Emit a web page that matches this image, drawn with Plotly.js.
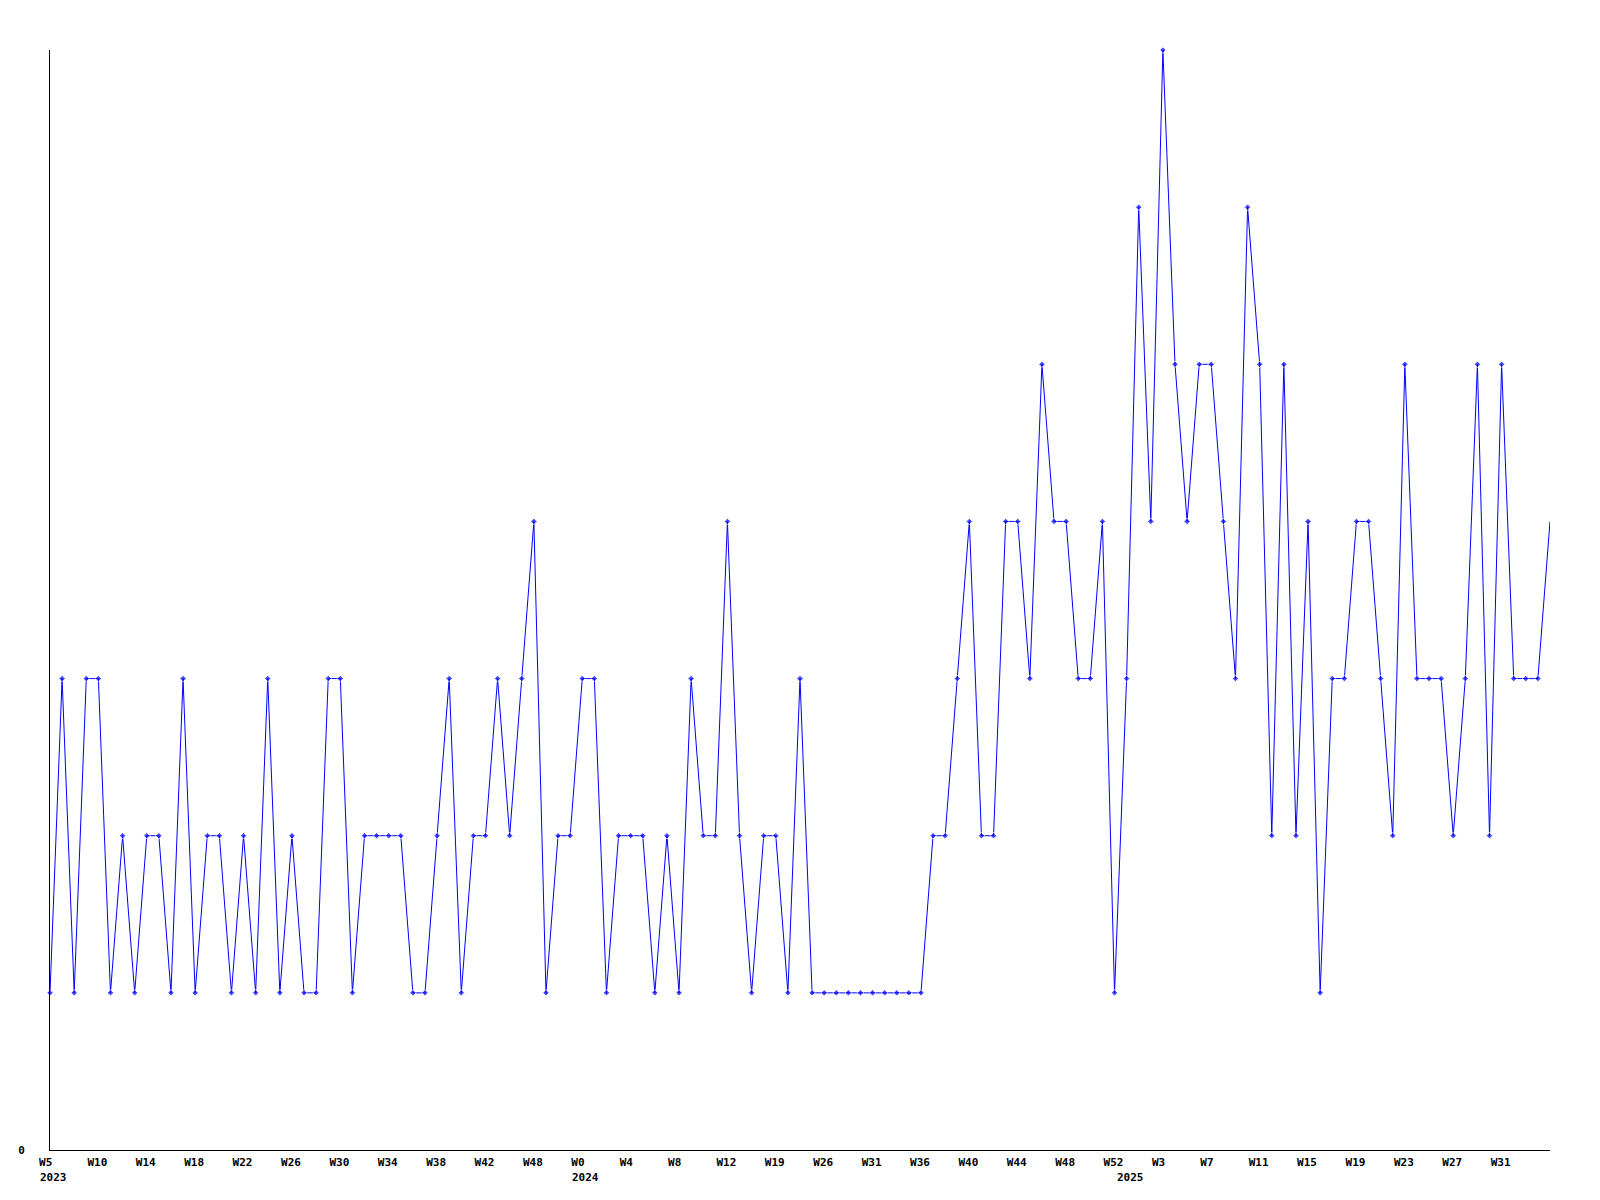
<!DOCTYPE html>
<html>
<head>
<meta charset="utf-8">
<script src="https://cdn.plot.ly/plotly-3.0.1.min.js"></script>
<style>html,body{margin:0;padding:0;background:#fff;}#chart{width:1600px;height:1200px;}</style>
</head>
<body>
<div id="chart"></div>
<script>
// weekly counts, one value per point
const values = [
  1,3,1,3,3,1,2,1,2,2,
  1,3,1,2,2,1,2,1,3,1,
  2,1,1,3,3,1,2,2,2,2,
  1,1,2,3,1,2,2,3,2,3,
  4,1,2,2,3,3,1,2,2,2,
  1,2,1,3,2,2,4,2,1,2,
  2,1,3,1,1,1,1,1,1,1,
  1,1,1,2,2,3,4,2,2,4,
  4,3,5,4,4,3,3,4,1,3,
  6,4,7,5,4,5,5,4,3,6,
  5,2,5,2,4,1,3,3,4,4,
  3,2,5,3,3,3,2,3,5,2,
  5,3,3,3,4
];
// week tick labels (every 4th point) and the point index each sits on
const tickLabels = ['W5','W10','W14','W18','W22','W26','W30','W34','W38','W42','W48',
  'W0','W4','W8','W12','W19','W26','W31','W36','W40','W44','W48',
  'W52','W3','W7','W11','W15','W19','W23','W27','W31'];
const tickPos = [0,4,8,12,16,20,24,28,32,36,40,44,48,52,56,60,64,68,72,76,80,84,88,92,96,100,104,108,112,116,120];
// year labels and the point index where each starts
const yearLabels = ['2023','2024','2025'];
const yearPos = [0, 44, 89];

const xs = values.map((v, i) => i);
const font = {family: 'DejaVu Sans Mono, monospace', size: 11, color: '#000', weight: 'bold'};
// pad labels to equal width so they line up left like the original
const padded = tickLabels.map(t => t.length < 3 ? t + '\u00a0'.repeat(3 - t.length) : t);

const trace = {
  type: 'scatter',
  mode: 'lines+markers',
  x: xs,
  y: values,
  line: {color: '#0000ff', width: 1},
  marker: {symbol: 'diamond', color: '#0000ff', size: values.map((v, i) => i === values.length - 1 ? 0 : 5)},
  cliponaxis: false,
  hoverinfo: 'none'
};

const annotations = yearLabels.map((t, i) => ({
  text: t, x: yearPos[i], xref: 'x', xanchor: 'left', xshift: -11,
  y: 0, yref: 'paper', yanchor: 'top', yshift: -20,
  showarrow: false, font: font, borderpad: 0
}));

const layout = {
  width: 1600, height: 1200,
  margin: {l: 50, r: 50, t: 50, b: 50, pad: 0},
  paper_bgcolor: '#fff', plot_bgcolor: '#fff',
  showlegend: false,
  xaxis: {
    range: [0, values.length - 1],
    showgrid: false, zeroline: false,
    showline: true, linecolor: '#000', linewidth: 1,
    tickmode: 'array', tickvals: tickPos, ticktext: padded,
    ticks: '', tickfont: font, ticklabelshift: -1, ticklabelstandoff: 2
  },
  yaxis: {
    range: [0, 7],
    showgrid: false, zeroline: false,
    showline: true, linecolor: '#000', linewidth: 1,
    tickmode: 'array', tickvals: [0], ticktext: ['0'],
    ticks: '', tickfont: font, ticklabelstandoff: 22
  },
  annotations: annotations
};

Plotly.newPlot('chart', [trace], layout, {staticPlot: true, displayModeBar: false});
</script>
</body>
</html>
